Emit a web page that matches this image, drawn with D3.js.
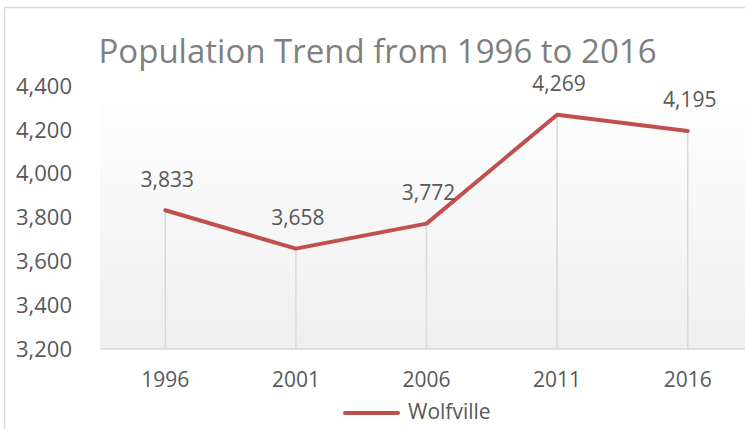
<!DOCTYPE html>
<html>
<head>
<meta charset="utf-8">
<script src="https://cdn.jsdelivr.net/npm/d3@7"></script>
<style>
  body { margin: 0; background: #fff; }
  text { font-family: "Open Sans", sans-serif; }
</style>
</head>
<body>
<div id="chart"></div>
<script>
// data
const years = ["1996", "2001", "2006", "2011", "2016"];
const population = [3833, 3658, 3772, 4269, 4195];
const yTicks = [3200, 3400, 3600, 3800, 4000, 4200, 4400];
const seriesName = "Wolfville";
const titleText = "Population Trend from 1996 to 2016";

const W = 745, H = 429;
const plot = { left: 100, right: 753, top: 86, bottom: 349 };
const lineColor = "#c0504d";
const fmt = d3.format(",");

const svg = d3.select("#chart").append("svg")
  .attr("width", W)
  .attr("height", H);

// gradient for plot area
const grad = svg.append("defs").append("linearGradient")
  .attr("id", "bg").attr("x1", 0).attr("y1", 0).attr("x2", 0).attr("y2", 1);
grad.append("stop").attr("offset", "0%").attr("stop-color", "#ffffff");
grad.append("stop").attr("offset", "100%").attr("stop-color", "#efefef");

// chart frame (cropped on right/bottom)
svg.append("rect")
  .attr("x", 4.5).attr("y", 7.5)
  .attr("width", W + 20).attr("height", H + 20)
  .attr("fill", "#fff")
  .attr("stroke", "#d9d9d9").attr("stroke-width", 1.5);

const x = d3.scalePoint().domain(years).range([plot.left, plot.right]).padding(0.5);
const y = d3.scaleLinear().domain([3200, 4400]).range([plot.bottom, plot.top]);

svg.append("rect")
  .attr("x", plot.left).attr("y", plot.top)
  .attr("width", plot.right - plot.left).attr("height", plot.bottom - plot.top)
  .attr("fill", "url(#bg)");

// title
svg.append("text")
  .attr("x", 377.5).attr("y", 63)
  .attr("text-anchor", "middle")
  .attr("fill", "#7f7f7f")
  .style("font-size", "33px")
  .text(titleText);

// y axis labels (no line)
svg.append("g").selectAll("text")
  .data(yTicks).enter().append("text")
  .attr("x", 72).attr("y", d => y(d))
  .attr("dy", "0.35em")
  .attr("text-anchor", "end")
  .attr("fill", "#595959")
  .style("font-size", "22px")
  .text(d => fmt(d));

// drop lines
const data = years.map((yr, i) => ({ year: yr, value: population[i] }));
svg.append("g").selectAll("line")
  .data(data).enter().append("line")
  .attr("x1", d => x(d.year)).attr("x2", d => x(d.year))
  .attr("y1", d => y(d.value)).attr("y2", plot.bottom)
  .attr("stroke", "#d9d9d9").attr("stroke-width", 1.5);

// x axis line
svg.append("line")
  .attr("x1", plot.left).attr("x2", plot.right)
  .attr("y1", plot.bottom).attr("y2", plot.bottom)
  .attr("stroke", "#d9d9d9").attr("stroke-width", 1.5);

// x labels
svg.append("g").selectAll("text")
  .data(years).enter().append("text")
  .attr("x", d => x(d)).attr("y", 380)
  .attr("dy", "0.35em")
  .attr("text-anchor", "middle")
  .attr("fill", "#595959")
  .style("font-size", "21px")
  .text(d => d);

// the line
const line = d3.line().x(d => x(d.year)).y(d => y(d.value));
svg.append("path")
  .datum(data)
  .attr("d", line)
  .attr("fill", "none")
  .attr("stroke", lineColor)
  .attr("stroke-width", 4)
  .attr("stroke-linejoin", "round")
  .attr("stroke-linecap", "round");

// data labels
svg.append("g").selectAll("text")
  .data(data).enter().append("text")
  .attr("x", d => x(d.year) + 2).attr("y", d => y(d.value) - 31)
  .attr("dy", "0.35em")
  .attr("text-anchor", "middle")
  .attr("fill", "#595959")
  .style("font-size", "21px")
  .text(d => fmt(d.value));

// legend
svg.append("line")
  .attr("x1", 345).attr("x2", 398)
  .attr("y1", 413).attr("y2", 413)
  .attr("stroke", lineColor).attr("stroke-width", 4)
  .attr("stroke-linecap", "round");
svg.append("text")
  .attr("x", 408).attr("y", 412)
  .attr("dy", "0.35em")
  .attr("fill", "#595959")
  .style("font-size", "21px")
  .text(seriesName);
</script>
</body>
</html>
